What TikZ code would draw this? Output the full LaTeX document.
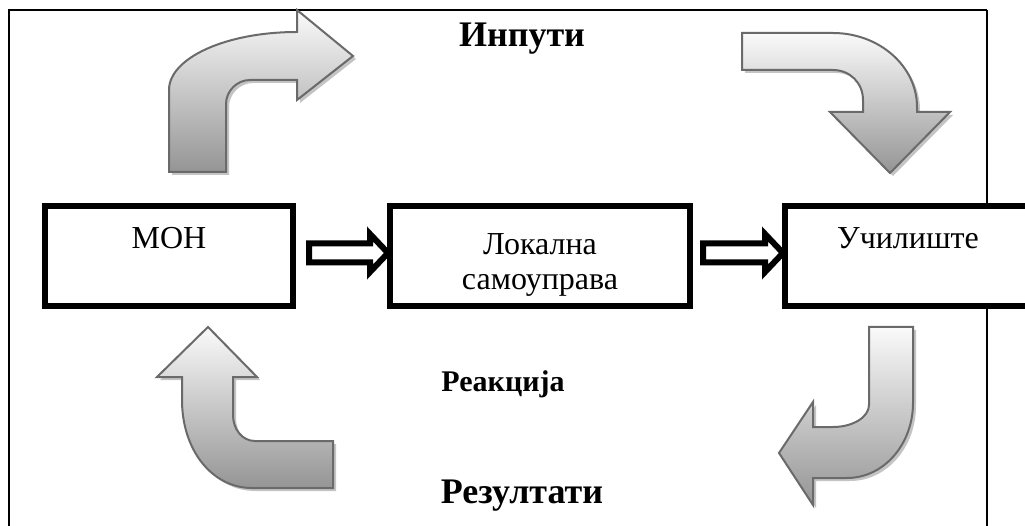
\documentclass[tikz,border=0pt]{standalone}
\usepackage{fontspec}
\setmainfont{Liberation Serif}
\usetikzlibrary{calc}
\definecolor{arrline}{HTML}{6A6A6A}
\definecolor{arrtop}{HTML}{FAFAFA}
\definecolor{arrbot}{HTML}{959595}
\definecolor{arrshadow}{HTML}{C4C4C4}
\tikzset{
  frameline/.style={line width=2.6pt, black},
  box/.style={draw=black, fill=white, line width=6pt, inner sep=0pt, rectangle},
  boxtxt/.style={font=\fontsize{32}{35}\selectfont, inner sep=0pt, anchor=base},
  bigtxt/.style={font=\bfseries\fontsize{36}{40}\selectfont, inner sep=0pt, anchor=base},
  midtxt/.style={font=\bfseries\fontsize{30}{34}\selectfont, inner sep=0pt, anchor=base},
  hollow/.style={draw=black, fill=white, line width=6pt, line join=miter},
  curvarrow/.style={draw=arrline, line width=2pt, top color=arrtop, bottom color=arrbot, line join=miter},
  curvshadow/.style={fill=arrshadow, draw=none},
}
\def\arrA{(169,172) -- (169,90) .. controls (169,58) and (226,32) .. (297,32) -- (297,10) -- (353,56) -- (297,100) -- (297,80) -- (250,80) .. controls (237,80) and (226,91) .. (226,104) -- (226,172) -- cycle}
\def\arrB{(742,33) -- (833,33) .. controls (879,33) and (917,66) .. (917,107) -- (917,112) -- (950,112) -- (890,173) -- (830,112) -- (863,112) -- (863,100) .. controls (863,83) and (850,70) .. (833,70) -- (742,70) -- cycle}
\def\arrC{(333,441) -- (333,488) -- (252,488) .. controls (212,488) and (182,450) .. (182,400) -- (182,377) -- (157,377) -- (208,327) -- (257,377) -- (233,377) -- (233,415) .. controls (233,429) and (242,441) .. (255,441) -- cycle}
\def\arrD{(869,327) -- (913,327) -- (913,403) .. controls (913,444) and (884,478) .. (847,478) -- (813,478) -- (813,505) -- (779,453) -- (813,402) -- (813,427) -- (833,427) .. controls (853,427) and (869,417) .. (869,405) -- cycle}
\begin{document}
\begin{tikzpicture}[x=1pt, y=-1pt]
\useasboundingbox (0,0) rectangle (1025,526);
\fill[white] (0,0) rectangle (1025,526);
% frame
\draw[frameline] (9,530) -- (9,10) -- (987,10);
\draw[black, line width=2pt] (987,10) -- (987,530);
% curved arrows with shadows
\fill[curvshadow, shift={(3,3)}] \arrA;
\shade[curvarrow] \arrA;
\fill[curvshadow, shift={(3,3)}] \arrB;
\shade[curvarrow] \arrB;
\fill[curvshadow, shift={(3,3)}] \arrC;
\shade[curvarrow] \arrC;
\fill[curvshadow, shift={(3,3)}] \arrD;
\shade[curvarrow] \arrD;
% boxes
\node[box, minimum width=248pt, minimum height=100pt] (moh) at (169,256) {};
\node[box, minimum width=300pt, minimum height=100pt] (lok) at (540,256) {};
\node[box, minimum width=248pt, minimum height=100pt] (uch) at (909,256) {};
% box texts
\node[boxtxt] (mohT) at (169,249) {МОН};
\node[boxtxt] (lokT1) at (540,255) {Локална};
\node[boxtxt] (lokT2) at (540,290) {самоуправа};
\node[boxtxt] (uchT) at (908,249) {Училиште};
% hollow connectors
\coordinate (a1s) at ($(moh.east)+(13,-3)$);
\coordinate (a1e) at ($(lok.west)+(1,-3)$);
\draw[hollow] ($(a1s)+(0,-9.5)$) -- ($(a1e)+(-18,-9.5)$) -- ($(a1e)+(-18,-19)$) -- (a1e) -- ($(a1e)+(-18,19)$) -- ($(a1e)+(-18,9.5)$) -- ($(a1s)+(0,9.5)$) -- cycle;
\coordinate (a2s) at ($(lok.east)+(10,-3)$);
\coordinate (a2e) at ($(uch.west)+(1,-3)$);
\draw[hollow] ($(a2s)+(0,-9.5)$) -- ($(a2e)+(-18,-9.5)$) -- ($(a2e)+(-18,-19)$) -- (a2e) -- ($(a2e)+(-18,19)$) -- ($(a2e)+(-18,9.5)$) -- ($(a2s)+(0,9.5)$) -- cycle;
% labels
\node[bigtxt] (inp) at (522,47) {Инпути};
\node[midtxt] (rea) at (503,391) {Реакција};
\node[bigtxt] (rez) at (522,503) {Резултати};
\end{tikzpicture}
\end{document}
